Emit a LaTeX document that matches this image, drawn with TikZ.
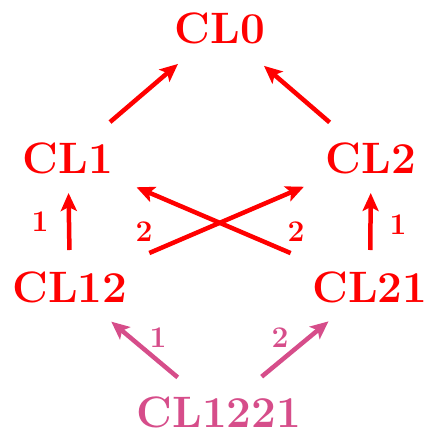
\documentclass[tikz,border=0pt]{standalone}
\usetikzlibrary{arrows.meta}
\definecolor{cred}{RGB}{255,0,0}
\definecolor{cpink}{RGB}{214,77,138}
\begin{document}
\begin{tikzpicture}[x=1pt,y=-1pt,
  cl/.style={inner sep=0pt,font=\fontsize{44}{50}\selectfont\bfseries},
  lbl/.style={inner sep=0pt,font=\fontsize{30}{34}\selectfont\bfseries},
  arr/.style={line width=4.5pt,-{Stealth[length=18pt,width=16pt,inset=4pt]}}]
\useasboundingbox (0,0) rectangle (432,433);
\node[cl,text=cred] (CL0) at (220,28) {CL0};
\node[cl,text=cred] (CL1) at (68,158) {CL1};
\node[cl,text=cred] (CL2) at (371,158) {CL2};
\node[cl,text=cred] (CL12) at (70,287) {CL12};
\node[cl,text=cred] (CL21) at (370,287) {CL21};
\node[cl,text=cpink] (CL1221) at (219,412) {CL1221};
\node[lbl,text=cred] (l1a) at (40,222) {1};
\node[lbl,text=cred] (l2a) at (144,232) {2};
\node[lbl,text=cred] (l2b) at (296,232) {2};
\node[lbl,text=cred] (l1b) at (398,225) {1};
\node[lbl,text=cpink] (l1c) at (158,338) {1};
\node[lbl,text=cpink] (l2c) at (280,338) {2};
\draw[arr,cred,shorten <=55.3pt,shorten >=55.3pt] (CL1.center) -- (CL0.center);
\draw[arr,cred,shorten <=54.6pt,shorten >=58pt] (CL2.center) -- (CL0.center);
\draw[arr,cred,shorten <=37pt,shorten >=35pt] (CL12.center) -- (CL1.center);
\draw[arr,cred,shorten <=37pt,shorten >=35pt] (CL21.center) -- (CL2.center);
\draw[arr,cred,shorten <=86.3pt,shorten >=73pt] (CL12.center) -- (CL2.center);
\draw[arr,cred,shorten <=86.3pt,shorten >=74.5pt] (CL21.center) -- (CL1.center);
\draw[arr,cpink,shorten <=53.9pt,shorten >=53.9pt] (CL1221.center) -- (CL12.center);
\draw[arr,cpink,shorten <=55.4pt,shorten >=53.9pt] (CL1221.center) -- (CL21.center);
\end{tikzpicture}
\end{document}
